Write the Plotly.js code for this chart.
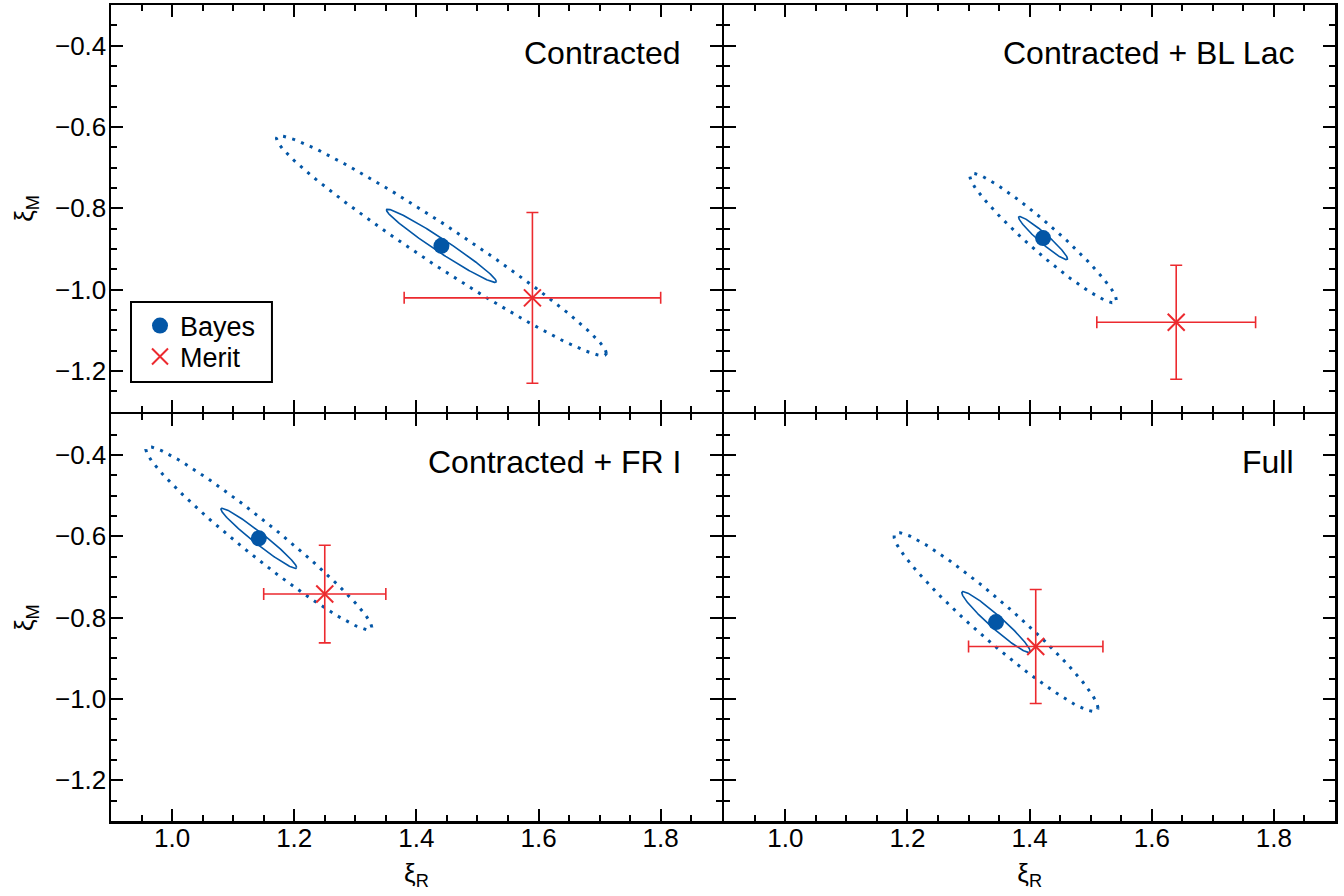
<!DOCTYPE html>
<html>
<head>
<meta charset="utf-8">
<script src="https://cdn.plot.ly/plotly-3.0.1.min.js"></script>
<style>html,body{margin:0;padding:0;background:#fff;}#chart{width:1344px;height:896px;}</style>
</head>
<body>
<div id="chart"></div>
<script>
// Panel names (top-left, top-right, bottom-left, bottom-right)
const panels = ['Contracted', 'Contracted + BL Lac', 'Contracted + FR I', 'Full'];
// Bayes best-fit points
const bayesX = [1.441, 1.422, 1.142, 1.345];
const bayesY = [-0.892, -0.873, -0.605, -0.811];
// Merit points with symmetric errors
const meritX = [1.59, 1.64, 1.25, 1.41];
const meritY = [-1.02, -1.08, -0.742, -0.871];
const meritErrX = [0.21, 0.13, 0.10, 0.11];
const meritErrY = [0.21, 0.14, 0.12, 0.14];
// Confidence contours: half-extents in x and y, and correlation
const innerSx = [0.090, 0.040, 0.062, 0.056];
const innerSy = [0.090, 0.053, 0.074, 0.075];
const outerSx = [0.270, 0.120, 0.185, 0.167];
const outerSy = [0.270, 0.159, 0.225, 0.220];
const corr = [-0.977, -0.958, -0.971, -0.960];
// Axis tick labels
const xTicks = [1.0, 1.2, 1.4, 1.6, 1.8];
const yTicks = [-1.2, -1.0, -0.8, -0.6, -0.4];

const BLUE = '#0356a6';
const RED = '#ec2a2f';
const FONT = 'Liberation Sans, Arial, Helvetica, sans-serif';
const LW = 2.5;

function ellipse(cx, cy, sx, sy, rho) {
  const xs = [], ys = [];
  const n = 240;
  const k = Math.sqrt(1 - rho * rho);
  for (let i = 0; i <= n; i++) {
    const t = 2 * Math.PI * i / n;
    xs.push(cx + sx * Math.cos(t));
    ys.push(cy + sy * (rho * Math.cos(t) + k * Math.sin(t)));
  }
  return {xs, ys};
}

const axRefs = [['x', 'y'], ['x2', 'y2'], ['x3', 'y3'], ['x4', 'y4']];
const traces = [];
panels.forEach((name, i) => {
  const [xa, ya] = axRefs[i];
  const eo = ellipse(bayesX[i], bayesY[i], outerSx[i], outerSy[i], corr[i]);
  const ei = ellipse(bayesX[i], bayesY[i], innerSx[i], innerSy[i], corr[i]);
  traces.push({x: eo.xs, y: eo.ys, xaxis: xa, yaxis: ya, mode: 'lines',
    line: {color: BLUE, width: 3, dash: '3px,6.5px'}, showlegend: false, hoverinfo: 'skip'});
  traces.push({x: ei.xs, y: ei.ys, xaxis: xa, yaxis: ya, mode: 'lines',
    line: {color: BLUE, width: 1.6}, showlegend: false, hoverinfo: 'skip'});
  traces.push({x: [meritX[i]], y: [meritY[i]], xaxis: xa, yaxis: ya, mode: 'markers',
    name: 'Merit', legend: 'legend2', showlegend: i === 0,
    marker: {symbol: 'x-thin-open', size: 17, color: RED, line: {color: RED, width: 2}},
    error_x: {type: 'constant', value: meritErrX[i], color: RED, thickness: 1.6, width: 6},
    error_y: {type: 'constant', value: meritErrY[i], color: RED, thickness: 1.6, width: 6}});
  traces.push({x: [bayesX[i]], y: [bayesY[i]], xaxis: xa, yaxis: ya, mode: 'markers',
    name: 'Bayes', legend: 'legend', showlegend: i === 0,
    marker: {symbol: 'circle', size: 16, color: BLUE}});
});

const axFont = {family: FONT, size: 26, color: '#000'};
function xax(domain, showLabels, anchor) {
  return {
    domain: domain, anchor: anchor, range: [0.9, 1.9], tickmode: 'array', tickvals: xTicks,
    ticktext: xTicks.map(v => v.toFixed(1)), showticklabels: showLabels,
    ticks: 'inside', ticklen: 12, tickwidth: 2, tickcolor: '#000',
    minor: {ticks: 'inside', ticklen: 6, tickwidth: 2, tickcolor: '#000', tickmode: 'linear', tick0: 0.9, dtick: 0.05, showgrid: false},
    showline: true, linewidth: LW, linecolor: '#000', mirror: 'ticks',
    showgrid: false, zeroline: false, ticklabelstandoff: -8,
    tickfont: axFont,
    title: showLabels ? {text: 'ξ<sub>R</sub>', font: axFont, standoff: 12} : {text: ''}
  };
}
function yax(domain, showLabels, anchor) {
  return {
    domain: domain, anchor: anchor, range: [-1.3, -0.3], tickmode: 'array', tickvals: yTicks,
    ticktext: yTicks.map(v => (v < 0 ? '\u2212' : '') + Math.abs(v).toFixed(1)), showticklabels: showLabels,
    ticks: 'inside', ticklen: 12, tickwidth: 2, tickcolor: '#000',
    minor: {ticks: 'inside', ticklen: 6, tickwidth: 2, tickcolor: '#000', tickmode: 'linear', tick0: -1.3, dtick: 0.05, showgrid: false},
    showline: true, linewidth: LW, linecolor: '#000', mirror: 'ticks',
    showgrid: false, zeroline: false, ticklabelstandoff: -3,
    tickfont: axFont,
    title: showLabels ? {text: 'ξ<sub>M</sub>', font: axFont, standoff: 14} : {text: ''}
  };
}

// Domains leave a gap equal to the line width so the shared frame lines coincide
const gx = LW / 2 / 1224, gy = LW / 2 / 816;
const dL = [0, 0.5 - gx], dR = [0.5 + gx, 1];
const dT = [0.5 + gy, 1], dB = [0, 0.5 - gy];

const labelPos = [[0.4673, 0.941], [0.9681, 0.941], [0.4673, 0.4403], [0.9681, 0.4403]];
const annotations = panels.map((name, i) => ({
  text: name, xref: 'paper', yref: 'paper', x: labelPos[i][0], y: labelPos[i][1],
  xanchor: 'right', yanchor: 'middle', showarrow: false,
  font: {family: FONT, size: 32, color: '#000'}
}));

const legFont = {family: FONT, size: 27, color: '#000'};
const layout = {
  width: 1344, height: 896,
  margin: {l: 111, r: 9, t: 5, b: 75},
  paper_bgcolor: '#fff', plot_bgcolor: '#fff',
  font: {family: FONT, color: '#000'},
  xaxis: xax(dL, false, 'y'),
  yaxis: yax(dT, true, 'x'),
  xaxis2: xax(dR, false, 'y2'),
  yaxis2: yax(dT, false, 'x2'),
  xaxis3: xax(dL, true, 'y3'),
  yaxis3: yax(dB, true, 'x3'),
  xaxis4: xax(dR, true, 'y4'),
  yaxis4: yax(dB, false, 'x4'),
  showlegend: true,
  legend: {x: 0.0237, y: 0.6066, xanchor: 'left', yanchor: 'middle',
    borderwidth: 0, bgcolor: 'rgba(0,0,0,0)', font: legFont, itemwidth: 30},
  legend2: {x: 0.0237, y: 0.5686, xanchor: 'left', yanchor: 'middle',
    borderwidth: 0, bgcolor: 'rgba(0,0,0,0)', font: legFont, itemwidth: 30},
  shapes: [{type: 'rect', xref: 'paper', yref: 'paper', x0: 0.01634, x1: 0.1315, y0: 0.538, y1: 0.636,
    line: {color: '#000', width: 2}, fillcolor: '#fff', layer: 'above'}],
  annotations: annotations
};

Plotly.newPlot('chart', traces, layout, {displayModeBar: false, staticPlot: true});
</script>
</body>
</html>
